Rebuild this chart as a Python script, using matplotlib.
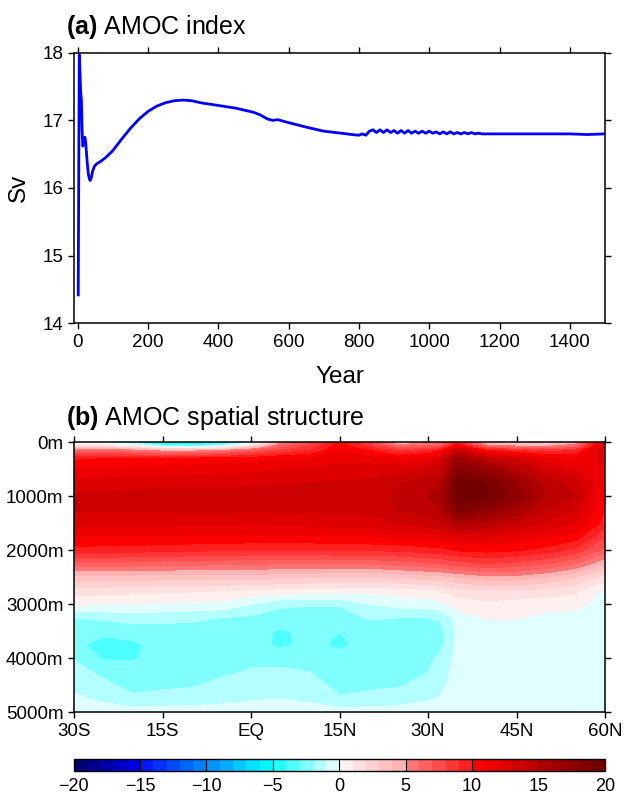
import numpy as np
import matplotlib
matplotlib.use("Agg")
import matplotlib.pyplot as plt
from matplotlib.colors import ListedColormap, BoundaryNorm

plt.rcParams['font.family'] = ['Liberation Sans', 'DejaVu Sans']
plt.rcParams['mathtext.fontset'] = 'custom'
plt.rcParams['mathtext.bf'] = 'Liberation Sans:bold'
plt.rcParams['mathtext.rm'] = 'Liberation Sans'

# ---- panel (a): AMOC index time series (Sv)
years = [2, 5, 7, 9, 11, 13, 15, 17, 19, 21, 23, 25, 28, 31, 34, 36, 39, 43, 48, 55,
         65, 80, 100, 125, 150, 175, 200, 225, 250, 275, 300, 325, 350, 400, 450, 500,
         520, 540, 555, 570, 590, 620, 650, 700, 750, 780, 800, 810, 820, 830, 840,
         850, 860, 870, 880, 890, 900, 910, 920, 930, 940, 950, 960, 970, 980, 990,
         1000, 1010, 1020, 1030, 1040, 1050, 1060, 1070, 1080, 1090, 1100, 1110, 1120,
         1130, 1140, 1150, 1200, 1250, 1300, 1350, 1400, 1450, 1500]
sv = [14.42, 17.97, 17.70, 17.42, 17.30, 16.85, 16.62, 16.65, 16.72, 16.75, 16.68, 16.55,
      16.35, 16.20, 16.13, 16.11, 16.15, 16.25, 16.32, 16.36, 16.39, 16.45, 16.55, 16.72,
      16.88, 17.02, 17.13, 17.21, 17.26, 17.29, 17.30, 17.29, 17.26, 17.22, 17.18, 17.12,
      17.08, 17.02, 17.00, 17.01, 16.98, 16.94, 16.90, 16.84, 16.81, 16.79, 16.78, 16.80,
      16.78, 16.84, 16.86, 16.82, 16.86, 16.82, 16.86, 16.82, 16.85, 16.81, 16.85, 16.81,
      16.85, 16.81, 16.84, 16.81, 16.84, 16.81, 16.84, 16.81, 16.83, 16.80, 16.83, 16.80,
      16.83, 16.80, 16.82, 16.80, 16.82, 16.80, 16.82, 16.80, 16.81, 16.80, 16.80, 16.80,
      16.80, 16.80, 16.80, 16.79, 16.80]

# ---- panel (b): AMOC streamfunction (Sv), depth x latitude
lats = [-30, -25, -20, -15, -10, -5, 0, 5, 10, 15, 20, 25, 30, 32, 35, 40, 45, 50, 55, 60]
depths = [0, 50, 100, 150, 300, 500, 750, 1000, 1250, 1500, 1750, 2000, 2250, 2500, 2750,
          3000, 3250, 3500, 3750, 4000, 4250, 4500, 4750, 5000]
amoc = [
    [-0.5, -0.5, -2.0, -5.5, -6.5, -4.0, -0.5, 5.0, 7.0, 10.5, 8.0, 4.0, 5.0, 6.0, 9.0, 3.0, 2.0, 2.0, 4.0, 13.0],
    [0.5, 0.5, -0.5, -3.5, -4.0, -2.5, 0.5, 6.0, 8.0, 10.5, 8.5, 5.0, 6.0, 6.5, 10.5, 5.0, 4.0, 4.0, 5.5, 13.0],
    [3.0, 3.0, 2.0, 0.5, 0.0, 1.0, 3.5, 7.0, 8.5, 10.8, 9.2, 7.0, 7.5, 8.0, 12.0, 7.5, 6.5, 6.0, 7.0, 13.0],
    [6.0, 6.0, 5.5, 4.5, 4.5, 5.0, 6.5, 8.0, 9.0, 11.0, 10.0, 8.5, 9.0, 10.0, 14.0, 10.0, 9.0, 8.5, 9.0, 13.0],
    [9.8, 10.0, 10.0, 10.0, 10.3, 10.5, 10.5, 11.0, 11.0, 11.5, 11.5, 11.0, 11.5, 12.5, 16.5, 14.0, 13.0, 11.5, 11.0, 12.5],
    [11.0, 11.2, 11.3, 11.4, 11.5, 11.6, 11.7, 12.0, 12.2, 12.5, 12.5, 12.5, 13.0, 13.5, 18.0, 17.0, 15.0, 13.0, 12.0, 11.5],
    [12.3, 12.5, 12.6, 12.7, 12.8, 12.8, 12.8, 12.9, 13.0, 13.1, 13.2, 14.0, 14.5, 15.0, 19.5, 19.0, 17.0, 14.5, 13.5, 11.0],
    [13.2, 13.3, 13.4, 13.4, 13.4, 13.4, 13.4, 13.4, 13.4, 13.4, 13.5, 14.2, 15.0, 15.5, 19.6, 19.2, 17.5, 15.0, 14.0, 10.5],
    [13.1, 13.2, 13.2, 13.2, 13.2, 13.2, 13.1, 13.2, 13.2, 13.2, 13.3, 14.0, 14.5, 15.0, 18.5, 17.5, 16.0, 14.0, 13.0, 10.0],
    [12.3, 12.3, 12.3, 12.3, 12.2, 12.2, 12.1, 12.2, 12.3, 12.5, 12.5, 13.0, 13.5, 14.0, 15.5, 14.8, 13.8, 12.8, 12.0, 9.5],
    [11.0, 11.0, 11.0, 11.0, 10.9, 10.9, 10.8, 10.8, 10.8, 11.0, 11.0, 11.2, 11.5, 11.6, 12.2, 12.2, 11.6, 11.1, 10.5, 8.0],
    [9.6, 9.5, 9.4, 9.3, 9.2, 9.1, 9.0, 9.0, 9.0, 9.1, 9.1, 9.2, 9.5, 9.6, 10.1, 10.3, 10.1, 9.6, 8.6, 6.5],
    [6.6, 6.6, 6.5, 6.4, 6.3, 6.2, 6.1, 6.0, 6.0, 6.0, 6.0, 6.4, 6.8, 7.0, 7.5, 8.0, 7.6, 7.0, 6.0, 4.0],
    [3.6, 3.6, 3.5, 3.4, 3.4, 3.4, 3.4, 3.3, 3.1, 3.0, 3.0, 3.2, 3.5, 3.6, 4.0, 4.6, 4.6, 4.0, 3.0, 1.5],
    [1.5, 1.4, 1.3, 1.2, 1.1, 1.0, 0.8, 0.6, 0.5, 0.5, 0.3, 0.5, 0.7, 0.9, 1.5, 1.8, 1.8, 1.6, 1.2, -0.2],
    [0.2, 0.0, 0.0, -0.1, -0.2, -0.3, -1.0, -1.8, -1.9, -1.9, -1.0, -0.6, -0.5, -0.3, 0.5, 0.7, 0.5, 0.3, 0.2, -0.3],
    [-2.0, -1.8, -1.6, -1.7, -1.8, -2.0, -2.2, -2.5, -2.5, -2.5, -1.9, -2.0, -2.0, -1.9, -0.6, 0.1, 0.05, -0.2, -0.3, -0.4],
    [-2.5, -2.8, -2.5, -2.4, -2.4, -2.5, -2.7, -3.1, -2.8, -3.0, -2.6, -2.5, -2.4, -2.3, -0.8, -0.5, -0.5, -0.5, -0.5, -0.5],
    [-2.8, -3.3, -3.2, -2.6, -2.5, -2.5, -2.6, -3.2, -2.7, -3.2, -2.6, -2.5, -2.4, -2.3, -0.7, -0.5, -0.5, -0.5, -0.5, -0.5],
    [-2.05, -3.1, -3.1, -2.5, -2.4, -2.3, -2.2, -2.4, -2.5, -2.6, -2.5, -2.4, -2.2, -1.8, -0.6, -0.5, -0.5, -0.5, -0.5, -0.5],
    [-1.7, -2.2, -2.5, -2.4, -2.3, -2.2, -1.9, -1.8, -2.0, -2.4, -2.4, -2.3, -2.0, -1.6, -0.5, -0.5, -0.5, -0.5, -0.5, -0.5],
    [-1.3, -1.8, -2.3, -2.2, -2.1, -1.7, -1.5, -1.4, -1.6, -2.3, -2.2, -2.1, -1.6, -1.3, -0.5, -0.5, -0.5, -0.5, -0.5, -0.5],
    [-0.8, -1.2, -1.8, -1.6, -1.5, -1.3, -1.1, -1.0, -1.2, -1.9, -1.7, -1.5, -1.1, -0.9, -0.4, -0.4, -0.4, -0.4, -0.4, -0.4],
    [-0.5, -0.5, -0.5, -0.5, -0.5, -0.5, -0.5, -0.5, -0.5, -0.5, -0.5, -0.5, -0.5, -0.5, -0.5, -0.5, -0.5, -0.5, -0.5, -0.5],
]

lat_ticks = [-30, -15, 0, 15, 30, 45, 60]
lat_labels = ['30S', '15S', 'EQ', '15N', '30N', '45N', '60N']
depth_ticks = [0, 1000, 2000, 3000, 4000, 5000]
depth_labels = ['0m', '1000m', '2000m', '3000m', '4000m', '5000m']
cbar_ticks = [-20, -15, -10, -5, 0, 5, 10, 15, 20]

# discrete 40-step blue-white-red palette (one colour per 1 Sv band)
neg = [(0.0, 0.0, 0.45), (0.0, 0.0, 0.55), (0.0, 0.0, 0.65), (0.0, 0.0, 0.78), (0.0, 0.0, 0.9),
       (0.0, 0.1, 1.0), (0.0, 0.2, 1.0), (0.0, 0.3, 1.0), (0.0, 0.4, 1.0), (0.0, 0.5, 1.0),
       (0.0, 0.58, 1.0), (0.0, 0.68, 1.0), (0.0, 0.78, 1.0), (0.0, 0.88, 1.0), (0.0, 0.97, 1.0),
       (0.15, 1.0, 1.0), (0.3, 1.0, 1.0), (0.5, 1.0, 1.0), (0.7, 1.0, 1.0), (0.88, 1.0, 1.0)]
pos = [(1.0, 0.94, 0.94), (1.0, 0.88, 0.88), (1.0, 0.82, 0.82), (1.0, 0.76, 0.76), (1.0, 0.70, 0.70),
       (1.0, 0.46, 0.46), (1.0, 0.38, 0.38), (1.0, 0.30, 0.30), (1.0, 0.21, 0.21), (1.0, 0.12, 0.12),
       (1.0, 0.0, 0.0), (0.93, 0.0, 0.0), (0.87, 0.0, 0.0), (0.8, 0.0, 0.0), (0.75, 0.0, 0.0),
       (0.68, 0.0, 0.0), (0.62, 0.0, 0.0), (0.56, 0.0, 0.0), (0.50, 0.0, 0.0), (0.45, 0.0, 0.0)]
cmap = ListedColormap(neg + pos)
levels = np.arange(-20, 21, 1)
norm = BoundaryNorm(levels, cmap.N)

fig = plt.figure(figsize=(6.24, 7.94), dpi=100)
W, H = 624.0, 794.0

def frac(x0, y0, x1, y1):
    return [x0 / W, 1 - y1 / H, (x1 - x0) / W, (y1 - y0) / H]

tick_kw = dict(direction='out', length=4, width=1.0, labelsize=13.5,
               top=True, right=True, labeltop=False, labelright=False)

# panel (a)
ax1 = fig.add_axes(frac(74, 52.7, 605, 323.3))
ax1.plot(years, sv, color='#0000ff', lw=2.0)
ax1.set_xlim(-10, 1500)
ax1.set_ylim(14, 18)
ax1.set_xticks(range(0, 1401, 200))
ax1.set_yticks([14, 15, 16, 17, 18])
ax1.tick_params(**tick_kw)
ax1.set_xlabel('Year', fontsize=17.5, labelpad=11)
ax1.set_ylabel('Sv', fontsize=17.5, labelpad=9)
for s in ax1.spines.values():
    s.set_linewidth(1.1)
fig.text(66 / W, 1 - 34 / H, r'$\bf{(a)}$ AMOC index', fontsize=18, va='baseline')

# panel (b)
ax2 = fig.add_axes(frac(74, 442.3, 605, 712.3))
cf = ax2.contourf(lats, depths, np.array(amoc), levels=levels, cmap=cmap, norm=norm)
ax2.set_xlim(-30, 60)
ax2.set_ylim(5000, 0)
ax2.set_xticks(lat_ticks)
ax2.set_xticklabels(lat_labels)
ax2.set_yticks(depth_ticks)
ax2.set_yticklabels(depth_labels)
ax2.tick_params(**tick_kw)
for s in ax2.spines.values():
    s.set_linewidth(1.1)
fig.text(66 / W, 1 - 425 / H, r'$\bf{(b)}$ AMOC spatial structure', fontsize=18, va='baseline')

# colorbar
cax = fig.add_axes(frac(73.5, 759, 605, 771))
cb = fig.colorbar(cf, cax=cax, orientation='horizontal', ticks=cbar_ticks)
cb.minorticks_off()
cb.ax.tick_params(length=0, labelsize=13, pad=5)
cb.outline.set_linewidth(1.0)
for v in cbar_ticks[1:-1]:
    cax.axvline(v, color='k', lw=0.8)

fig.savefig('out.png', dpi=100)
